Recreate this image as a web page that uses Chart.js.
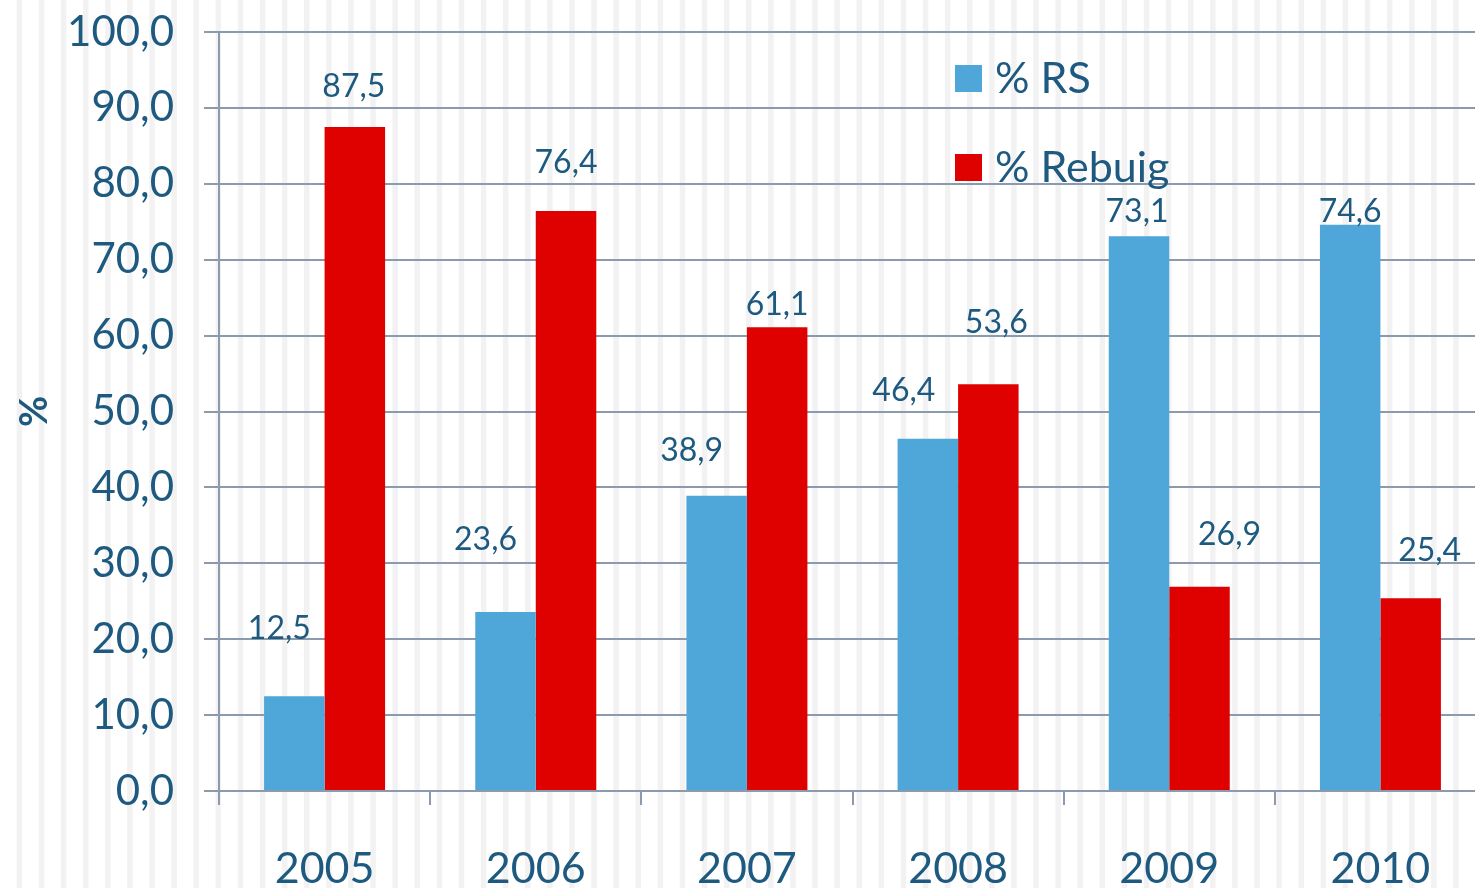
<!DOCTYPE html>
<html>
<head>
<meta charset="utf-8">
<script src="https://cdn.jsdelivr.net/npm/chart.js@4"></script>
<style>
  body { margin: 0; overflow: hidden; background: #fff; }
  #wrap { width: 1500px; height: 888px; }
</style>
</head>
<body>
<div id="wrap"><canvas id="rsChart" width="1500" height="888"></canvas></div>
<script>
const years = ['2005', '2006', '2007', '2008', '2009', '2010'];
const rsValues = [12.5, 23.6, 38.9, 46.4, 73.1, 74.6];
const rebuigValues = [87.5, 76.4, 61.1, 53.6, 26.9, 25.4];
const seriesNames = ['% RS', '% Rebuig'];

// hand-placed label nudges (px) like in the original sheet
const rsNudge = [[-15, -67], [-20, -72], [-25, -45], [-24, -48], [-2, -24], [0, -13]];
const rebuigNudge = [[-1, -40], [0, -48], [0, -23], [8, -61], [30, -52], [19, -48]];

const textBlue = '#1e5a80';
const gridGrey = '#8c9aad';
const fontName = 'Lato';

const fmt = v => v.toFixed(1).replace('.', ',');

const stripes = {
    id: 'stripes',
    beforeDraw(chart) {
        const ctx = chart.ctx;
        ctx.save();
        ctx.fillStyle = '#ffffff';
        ctx.fillRect(0, 0, chart.width, chart.height);
        ctx.fillStyle = '#f2f2f2';
        for (let x = 16.7; x < chart.width; x += 22.1) {
            ctx.fillRect(x, 0, 5.5, chart.height);
        }
        ctx.restore();
    }
};

const barLabels = {
    id: 'barLabels',
    afterDatasetsDraw(chart) {
        const ctx = chart.ctx;
        const nudges = [rsNudge, rebuigNudge];
        ctx.save();
        ctx.font = '32px ' + fontName;
        ctx.fillStyle = textBlue;
        ctx.textAlign = 'center';
        ctx.textBaseline = 'middle';
        chart.data.datasets.forEach((ds, d) => {
            chart.getDatasetMeta(d).data.forEach((bar, i) => {
                ctx.fillText(fmt(ds.data[i]), bar.x + nudges[d][i][0], bar.y + nudges[d][i][1]);
            });
        });
        ctx.restore();
    }
};

const sideLegend = {
    id: 'sideLegend',
    afterDraw(chart) {
        const ctx = chart.ctx;
        const x = chart.chartArea.left + 736;
        ctx.save();
        ctx.font = '43px ' + fontName;
        ctx.textBaseline = 'middle';
        chart.data.datasets.forEach((ds, d) => {
            const y = 65 + d * 89;
            ctx.fillStyle = ds.backgroundColor;
            ctx.fillRect(x, y, 27, 27);
            ctx.fillStyle = textBlue;
            ctx.fillText(ds.label, x + 40, y + 14);
        });
        ctx.restore();
    }
};

const ctx = document.getElementById('rsChart').getContext('2d');
const rsChart = new Chart(ctx, {
    type: 'bar',
    data: {
        labels: years,
        datasets: [
            {
                label: seriesNames[0],
                data: rsValues,
                backgroundColor: '#4fa6d9',
                categoryPercentage: 0.573,
                barPercentage: 1.0,
            },
            {
                label: seriesNames[1],
                data: rebuigValues,
                backgroundColor: '#df0000',
                categoryPercentage: 0.573,
                barPercentage: 1.0,
            },
        ],
    },
    options: {
        responsive: false,
        animation: false,
        layout: { padding: { top: 32, right: 14, bottom: 0, left: 0 } },
        plugins: {
            legend: { display: false },
            tooltip: { enabled: false },
        },
        scales: {
            x: {
                grid: {
                    drawOnChartArea: false,
                    color: gridGrey,
                    lineWidth: 2,
                    tickLength: 14,
                },
                border: { color: gridGrey, width: 2 },
                ticks: {
                    color: textBlue,
                    font: { family: fontName, size: 43 },
                    padding: 38,
                },
                afterFit(scale) {
                    scale.height = 97;
                    scale.paddingLeft = 0;
                    scale.paddingRight = 0;
                },
            },
            y: {
                min: 0,
                max: 100,
                ticks: {
                    stepSize: 10,
                    color: textBlue,
                    font: { family: fontName, size: 42 },
                    padding: 30,
                    callback: v => fmt(v),
                },
                grid: {
                    color: gridGrey,
                    lineWidth: 2,
                    tickLength: 15,
                },
                border: { color: gridGrey, width: 2 },
                title: {
                    display: true,
                    text: '%',
                    color: textBlue,
                    font: { family: fontName, size: 38, weight: 'bold' },
                    padding: { top: 12, bottom: 0 },
                },
                afterFit(scale) {
                    scale.width = 219;
                    scale.paddingTop = 0;
                    scale.paddingBottom = 0;
                },
            },
        },
    },
    plugins: [stripes, barLabels, sideLegend],
});
</script>
</body>
</html>
